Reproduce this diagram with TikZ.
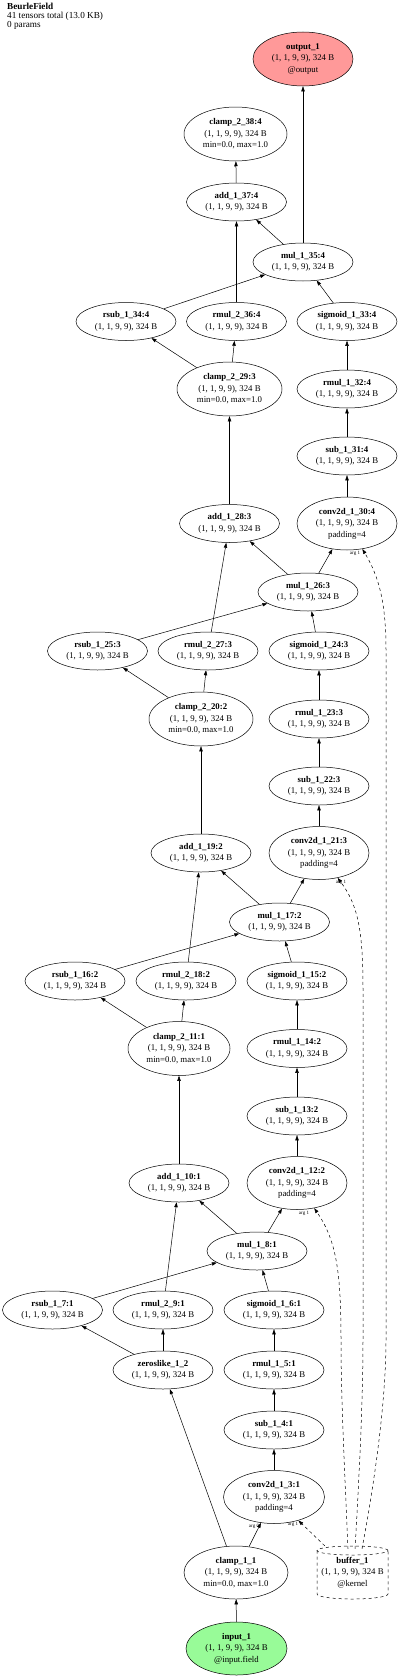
\documentclass[tikz,border=0pt]{standalone}
\usepackage{fontspec}
\setmainfont{Liberation Serif}
\usetikzlibrary{shapes.geometric,arrows.meta}
\definecolor{outred}{RGB}{255,153,153}
\definecolor{ingreen}{RGB}{152,251,152}
\newcommand\nodefnt{\fontsize{8.8}{11.5}\selectfont}
\newcommand\headfnt{\fontsize{9.2}{8.8}\selectfont}
\newcommand\argfnt{\fontsize{5}{6}\selectfont}
\tikzset{
  op/.style={ellipse, draw, line width=0.5pt, minimum width=100pt, minimum height=38pt, inner sep=0pt, align=center, font=\nodefnt},
  opiii/.style={op, minimum width=103pt, minimum height=54pt},
  edge/.style={-{Triangle[length=5pt,width=3.4pt]}, line width=0.5pt},
  kernel/.style={edge, dashed},
  arglab/.style={font=\argfnt, inner sep=0pt}
}
\begin{document}
\begin{tikzpicture}[x=1pt,y=1pt]
\useasboundingbox (0,0) rectangle (400,-1678);
\node[anchor=north west, align=left, inner sep=0pt, font=\headfnt] (header) at (7,-3) {\textbf{BeurleField}\\41 tensors total (13.0 KB)\\0 params};

\node[opiii, fill=outred, minimum width=100pt] (output_1) at (303,-59) {\textbf{output\_1}\\(1, 1, 9, 9), 324 B\\@output};
\node[opiii] (clamp_2_38_4) at (235.5,-134) {\textbf{clamp\_2\_38:4}\\(1, 1, 9, 9), 324 B\\min=0.0, max=1.0};
\node[op] (add_1_37_4) at (236.5,-202) {\textbf{add\_1\_37:4}\\(1, 1, 9, 9), 324 B};
\node[op] (mul_1_35_4) at (303,-262) {\textbf{mul\_1\_35:4}\\(1, 1, 9, 9), 324 B};
\node[op] (rsub_1_34_4) at (126,-321.5) {\textbf{rsub\_1\_34:4}\\(1, 1, 9, 9), 324 B};
\node[op] (rmul_2_36_4) at (236.5,-321.5) {\textbf{rmul\_2\_36:4}\\(1, 1, 9, 9), 324 B};
\node[op] (sigmoid_1_33_4) at (347,-321.5) {\textbf{sigmoid\_1\_33:4}\\(1, 1, 9, 9), 324 B};
\node[opiii, minimum width=105pt] (clamp_2_29_3) at (229.5,-389) {\textbf{clamp\_2\_29:3}\\(1, 1, 9, 9), 324 B\\min=0.0, max=1.0};
\node[op] (rmul_1_32_4) at (347,-389) {\textbf{rmul\_1\_32:4}\\(1, 1, 9, 9), 324 B};
\node[op] (sub_1_31_4) at (347,-456) {\textbf{sub\_1\_31:4}\\(1, 1, 9, 9), 324 B};
\node[opiii, minimum width=100pt, minimum height=53pt] (conv2d_1_30_4) at (347,-523.5) {\textbf{conv2d\_1\_30:4}\\(1, 1, 9, 9), 324 B\\padding=4};
\node[op] (add_1_28_3) at (229.5,-523.5) {\textbf{add\_1\_28:3}\\(1, 1, 9, 9), 324 B};
\node[op] (mul_1_26_3) at (308,-592) {\textbf{mul\_1\_26:3}\\(1, 1, 9, 9), 324 B};
\node[op] (rsub_1_25_3) at (97.5,-651) {\textbf{rsub\_1\_25:3}\\(1, 1, 9, 9), 324 B};
\node[op] (rmul_2_27_3) at (208,-651) {\textbf{rmul\_2\_27:3}\\(1, 1, 9, 9), 324 B};
\node[op] (sigmoid_1_24_3) at (319,-651) {\textbf{sigmoid\_1\_24:3}\\(1, 1, 9, 9), 324 B};
\node[opiii, minimum width=104pt] (clamp_2_20_2) at (201,-719) {\textbf{clamp\_2\_20:2}\\(1, 1, 9, 9), 324 B\\min=0.0, max=1.0};
\node[op] (rmul_1_23_3) at (319,-719) {\textbf{rmul\_1\_23:3}\\(1, 1, 9, 9), 324 B};
\node[op] (sub_1_22_3) at (319,-786) {\textbf{sub\_1\_22:3}\\(1, 1, 9, 9), 324 B};
\node[op] (add_1_19_2) at (201,-853) {\textbf{add\_1\_19:2}\\(1, 1, 9, 9), 324 B};
\node[opiii, minimum width=100pt, minimum height=53pt] (conv2d_1_21_3) at (319,-853) {\textbf{conv2d\_1\_21:3}\\(1, 1, 9, 9), 324 B\\padding=4};
\node[op] (mul_1_17_2) at (279.5,-922) {\textbf{mul\_1\_17:2}\\(1, 1, 9, 9), 324 B};
\node[op] (rsub_1_16_2) at (75,-981) {\textbf{rsub\_1\_16:2}\\(1, 1, 9, 9), 324 B};
\node[op] (rmul_2_18_2) at (186,-981) {\textbf{rmul\_2\_18:2}\\(1, 1, 9, 9), 324 B};
\node[op] (sigmoid_1_15_2) at (297,-981) {\textbf{sigmoid\_1\_15:2}\\(1, 1, 9, 9), 324 B};
\node[opiii, minimum width=102pt] (clamp_2_11_1) at (179,-1048.5) {\textbf{clamp\_2\_11:1}\\(1, 1, 9, 9), 324 B\\min=0.0, max=1.0};
\node[op] (rmul_1_14_2) at (297,-1048.5) {\textbf{rmul\_1\_14:2}\\(1, 1, 9, 9), 324 B};
\node[op] (sub_1_13_2) at (297,-1116) {\textbf{sub\_1\_13:2}\\(1, 1, 9, 9), 324 B};
\node[op] (add_1_10_1) at (179,-1183) {\textbf{add\_1\_10:1}\\(1, 1, 9, 9), 324 B};
\node[opiii, minimum width=100pt, minimum height=53pt] (conv2d_1_12_2) at (297,-1183) {\textbf{conv2d\_1\_12:2}\\(1, 1, 9, 9), 324 B\\padding=4};
\node[op] (mul_1_8_1) at (257,-1251) {\textbf{mul\_1\_8:1}\\(1, 1, 9, 9), 324 B};
\node[op] (rsub_1_7_1) at (52.5,-1310) {\textbf{rsub\_1\_7:1}\\(1, 1, 9, 9), 324 B};
\node[op] (rmul_2_9_1) at (163,-1310) {\textbf{rmul\_2\_9:1}\\(1, 1, 9, 9), 324 B};
\node[op] (sigmoid_1_6_1) at (274,-1310) {\textbf{sigmoid\_1\_6:1}\\(1, 1, 9, 9), 324 B};
\node[op] (zeroslike_1_2) at (163,-1370) {\textbf{zeroslike\_1\_2}\\(1, 1, 9, 9), 324 B};
\node[op] (rmul_1_5_1) at (274,-1370) {\textbf{rmul\_1\_5:1}\\(1, 1, 9, 9), 324 B};
\node[op] (sub_1_4_1) at (274,-1430) {\textbf{sub\_1\_4:1}\\(1, 1, 9, 9), 324 B};
\node[opiii, minimum width=101pt, minimum height=53pt] (conv2d_1_3_1) at (274,-1497) {\textbf{conv2d\_1\_3:1}\\(1, 1, 9, 9), 324 B\\padding=4};
\node[opiii, minimum width=104pt, minimum height=53pt] (clamp_1_1) at (236,-1572.5) {\textbf{clamp\_1\_1}\\(1, 1, 9, 9), 324 B\\min=0.0, max=1.0};
\node[opiii, fill=ingreen, minimum width=101pt, minimum height=53pt] (input_1) at (236.5,-1648.5) {\textbf{input\_1}\\(1, 1, 9, 9), 324 B\\@input.field};

% buffer (cylinder)
\node[rectangle, minimum width=71pt, minimum height=53pt, inner sep=0pt, align=center, font=\nodefnt] (buffer_1) at (352.5,-1572.5) {\textbf{buffer\_1}\\(1, 1, 9, 9), 324 B\\@kernel};
\draw[dashed, line width=0.5pt] (352.5,-1550.5) ellipse [x radius=35.5pt, y radius=4.5pt];
\draw[dashed, line width=0.5pt] (317,-1550.5) -- (317,-1594) arc[start angle=180, end angle=360, x radius=35.5pt, y radius=5pt] -- (388,-1550.5);

% edges
\draw[edge] (mul_1_35_4) -- (output_1);
\draw[edge] (add_1_37_4) -- (clamp_2_38_4);
\draw[edge] (rmul_2_36_4) -- (add_1_37_4);
\draw[edge] (mul_1_35_4) -- (add_1_37_4);
\draw[edge] (rsub_1_34_4) -- (mul_1_35_4);
\draw[edge] (sigmoid_1_33_4) -- (mul_1_35_4);
\draw[edge] (clamp_2_29_3) -- (rsub_1_34_4);
\draw[edge] (clamp_2_29_3) -- (rmul_2_36_4);
\draw[edge] (rmul_1_32_4) -- (sigmoid_1_33_4);
\draw[edge] (add_1_28_3) -- (clamp_2_29_3);
\draw[edge] (sub_1_31_4) -- (rmul_1_32_4);
\draw[edge] (conv2d_1_30_4) -- (sub_1_31_4);
\draw[edge] (mul_1_26_3) -- (conv2d_1_30_4);
\draw[edge] (mul_1_26_3) -- (add_1_28_3);
\draw[edge] (rmul_2_27_3) -- (add_1_28_3);
\draw[edge] (rsub_1_25_3) -- (mul_1_26_3);
\draw[edge] (sigmoid_1_24_3) -- (mul_1_26_3);
\draw[edge] (clamp_2_20_2) -- (rsub_1_25_3);
\draw[edge] (clamp_2_20_2) -- (rmul_2_27_3);
\draw[edge] (rmul_1_23_3) -- (sigmoid_1_24_3);
\draw[edge] (sub_1_22_3) -- (rmul_1_23_3);
\draw[edge] (conv2d_1_21_3) -- (sub_1_22_3);
\draw[edge] (add_1_19_2) -- (clamp_2_20_2);
\draw[edge] (mul_1_17_2) -- (conv2d_1_21_3);
\draw[edge] (mul_1_17_2) -- (add_1_19_2);
\draw[edge] (rmul_2_18_2) -- (add_1_19_2);
\draw[edge] (rsub_1_16_2) -- (mul_1_17_2);
\draw[edge] (sigmoid_1_15_2) -- (mul_1_17_2);
\draw[edge] (clamp_2_11_1) -- (rsub_1_16_2);
\draw[edge] (clamp_2_11_1) -- (rmul_2_18_2);
\draw[edge] (rmul_1_14_2) -- (sigmoid_1_15_2);
\draw[edge] (sub_1_13_2) -- (rmul_1_14_2);
\draw[edge] (conv2d_1_12_2) -- (sub_1_13_2);
\draw[edge] (add_1_10_1) -- (clamp_2_11_1);
\draw[edge] (mul_1_8_1) -- (conv2d_1_12_2);
\draw[edge] (mul_1_8_1) -- (add_1_10_1);
\draw[edge] (rmul_2_9_1) -- (add_1_10_1);
\draw[edge] (rsub_1_7_1) -- (mul_1_8_1);
\draw[edge] (sigmoid_1_6_1) -- (mul_1_8_1);
\draw[edge] (zeroslike_1_2) -- (rsub_1_7_1);
\draw[edge] (zeroslike_1_2) -- (rmul_2_9_1);
\draw[edge] (rmul_1_5_1) -- (sigmoid_1_6_1);
\draw[edge] (sub_1_4_1) -- (rmul_1_5_1);
\draw[edge] (conv2d_1_3_1) -- (sub_1_4_1);
\draw[edge] (clamp_1_1) -- (conv2d_1_3_1);
\draw[edge] (clamp_1_1) -- (zeroslike_1_2);
\draw[edge] (input_1) -- (clamp_1_1);

% kernel edges
\draw[kernel] (buffer_1) -- (conv2d_1_3_1);
\draw[kernel] ([xshift=-4.5pt,yshift=-3pt]buffer_1.north) .. controls (345,-1480) and (341,-1400) .. (341,-1340) .. controls (341,-1270) and (336,-1240) .. (conv2d_1_12_2);
\draw[kernel] ([xshift=2.5pt,yshift=-3pt]buffer_1.north) .. controls (359,-1480) and (363,-1400) .. (363,-1340) -- (363,-990) .. controls (363,-930) and (358,-905) .. (conv2d_1_21_3);
\draw[kernel] ([xshift=9.5pt,yshift=-3pt]buffer_1.north) .. controls (375,-1480) and (386,-1400) .. (386,-1340) -- (386,-650) .. controls (386,-600) and (378,-575) .. (conv2d_1_30_4);

% arg labels
\node[arglab] (arg_a) at (254,-1526) {arg 0};
\node[arglab] (arg_b) at (293,-1524) {arg 1};
\node[arglab] (arg_c) at (304,-1213) {arg 1};
\node[arglab] (arg_d) at (341,-882) {arg 1};
\node[arglab] (arg_e) at (355,-553) {arg 1};
\end{tikzpicture}
\end{document}
